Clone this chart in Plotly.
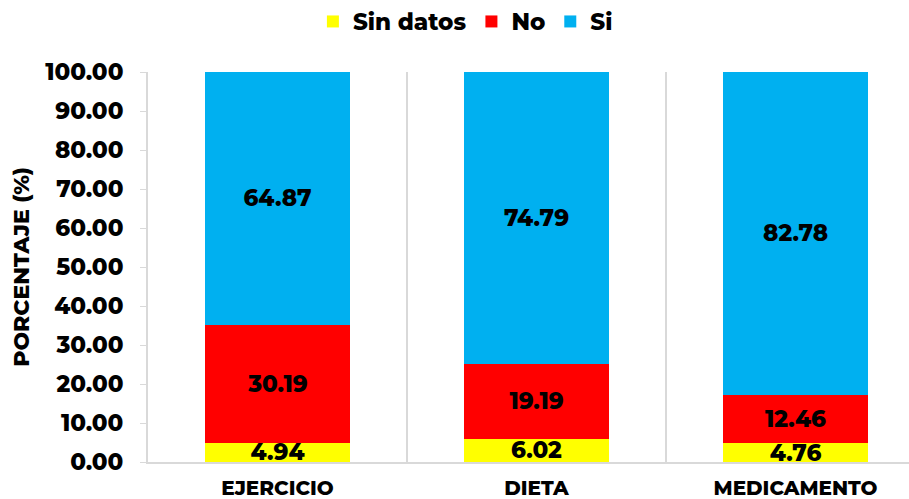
import plotly.graph_objects as go

categories = ["EJERCICIO", "DIETA", "MEDICAMENTO"]
sin_datos = [4.94, 6.02, 4.76]
no_vals = [30.19, 19.19, 12.46]
si_vals = [64.87, 74.79, 82.78]
y_ticks = [0, 10, 20, 30, 40, 50, 60, 70, 80, 90, 100]

FONT = "Montserrat, 'Open Sans', 'DejaVu Sans', sans-serif"
xpos = list(range(len(categories)))

fig = go.Figure()
for name, vals, color in [("Sin datos", sin_datos, "#FFFF00"),
                          ("No", no_vals, "#FF0000"),
                          ("Si", si_vals, "#00B0F0")]:
    fig.add_trace(go.Bar(
        x=xpos, y=vals, name=name, marker=dict(color=color, line=dict(width=0)),
        width=0.56, text=[f"{v:.2f}" for v in vals], textposition="inside",
        insidetextanchor="middle", textangle=0, constraintext="none",
        textfont=dict(family=FONT, size=23, color="black", weight=800),
        hoverinfo="skip",
    ))

fig.update_layout(
    barmode="stack",
    width=909, height=499,
    paper_bgcolor="white", plot_bgcolor="white",
    margin=dict(l=148, r=0, t=72, b=37, autoexpand=False),
    font=dict(family=FONT, color="black"),
    legend=dict(orientation="h", x=0.512, xanchor="center", xref="container",
                y=1.0, yanchor="top", yref="container", traceorder="normal",
                font=dict(family=FONT, size=23, weight=800)),
    showlegend=True,
)
fig.update_xaxes(
    range=[-0.5, 2.438], tickmode="array", tickvals=xpos, ticktext=categories,
    showgrid=False, showline=True, linecolor="#d9d9d9", linewidth=2,
    ticks="", ticklabelstandoff=7, automargin=False,
    tickfont=dict(family=FONT, size=20, weight=800),
    minor=dict(tickmode="array", tickvals=[0.5, 1.5], showgrid=True,
               gridcolor="#d9d9d9", gridwidth=2, ticks=""),
    zeroline=False,
)
fig.update_yaxes(
    range=[0, 100], tickmode="array", tickvals=y_ticks, tickformat=".2f",
    showgrid=False, showline=True, linecolor="#d9d9d9", linewidth=2,
    ticks="outside", ticklen=6, tickcolor="#d9d9d9", tickwidth=1,
    ticklabelstandoff=12, automargin=False,
    tickfont=dict(family=FONT, size=23, weight=800),
    title=dict(text="PORCENTAJE (%)", font=dict(family=FONT, size=22, weight=800),
               standoff=9),
    zeroline=False,
)

fig.write_html("out.html", config={"displayModeBar": False},
               post_script="document.body.style.margin='0';document.body.style.overflow='hidden';")
